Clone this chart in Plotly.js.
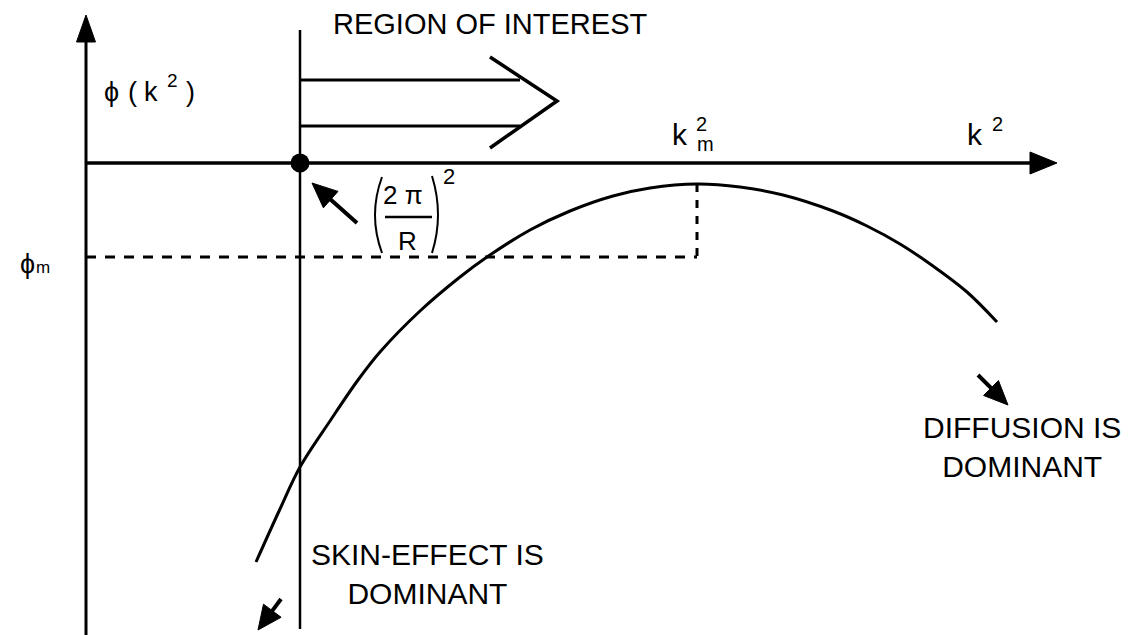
<!DOCTYPE html>
<html>
<head>
<meta charset="utf-8">
<script src="https://cdn.plot.ly/plotly-3.0.1.min.js"></script>
<style>
  html, body { margin: 0; padding: 0; background: #fff; }
  #plot { width: 1132px; height: 635px; }
</style>
</head>
<body>
<div id="plot"></div>
<script>
// Growth-rate curve phi(k^2) sketched against k^2 (arbitrary units)
const curveK2  = [1.70, 1.94, 2.14, 2.44, 2.72, 2.94, 3.34, 3.74, 4.01, 4.44, 4.84, 5.27, 5.64, 6.11, 6.54, 6.97, 7.47, 7.81, 8.14, 8.47, 8.81, 9.11];
const curvePhi = [-3.99, -3.46, -3.04, -2.58, -2.17, -1.89, -1.48, -1.14, -0.94, -0.67, -0.48, -0.33, -0.25, -0.21, -0.24, -0.32, -0.48, -0.63, -0.81, -1.03, -1.29, -1.59];

// Marked positions on the sketch
const kBoundary = 2.14;   // (2π/R)^2, lower edge of the region of interest
const kPeak = 6.11;       // k_m^2
const phiPeak = -0.21;    // curve value at k_m^2
const phiM = -0.94;       // φ_m level

const axisTopPhi = 1.48;  // tip of the φ arrow
const axisEndK = 9.71;    // tip of the k^2 arrow
const bottomPhi = -4.75;

const FONT = 'Liberation Sans, Arial, Helvetica, sans-serif';
const INK = '#000';

const curve = {
  x: curveK2, y: curvePhi, type: 'scatter', mode: 'lines',
  line: { color: INK, width: 3, shape: 'spline', smoothing: 1.0 },
  hoverinfo: 'skip', showlegend: false
};
const dot = {
  x: [kBoundary], y: [0], type: 'scatter', mode: 'markers',
  marker: { color: INK, size: 19 }, hoverinfo: 'skip', showlegend: false
};

function line(x0, y0, x1, y1, w, dash) {
  return { type: 'line', xref: 'x', yref: 'y', x0, y0, x1, y1,
           line: { color: INK, width: w, dash: dash || 'solid' } };
}
function path(d, w, fill) {
  return { type: 'path', xref: 'x', yref: 'y', path: d,
           line: { color: INK, width: w }, fillcolor: fill || 'rgba(0,0,0,0)' };
}
// short pointer: shaft plus filled head (axes share the same scale, so lengths are isotropic)
function pointer(tipX, tipY, tailX, tailY, headLen, headHalf) {
  const dx = tipX - tailX, dy = tipY - tailY;
  const len = Math.hypot(dx, dy);
  const ux = dx / len, uy = dy / len, px = -uy, py = ux;
  const bx = tipX - ux * headLen, by = tipY - uy * headLen;
  const f = v => v.toFixed(4);
  return [
    line(tailX, tailY, bx + ux * 0.02, by + uy * 0.02, 4),
    path(`M ${f(tipX)},${f(tipY)} L ${f(bx + px * headHalf)},${f(by + py * headHalf)} ` +
         `L ${f(bx - px * headHalf)},${f(by - py * headHalf)} Z`, 1, INK)
  ];
}

const shapes = [
  // φ axis with arrowhead
  line(0, bottomPhi, 0, axisTopPhi - 0.1, 3),
  path(`M 0,${axisTopPhi} L -0.095,${axisTopPhi - 0.27} L 0.095,${axisTopPhi - 0.27} Z`, 1, INK),
  // k^2 axis with arrowhead
  line(0, 0, axisEndK - 0.1, 0, 3.5),
  path(`M ${axisEndK},0 L ${axisEndK - 0.27},0.11 L ${axisEndK - 0.27},-0.11 Z`, 1, INK),
  // boundary line at (2π/R)^2
  line(kBoundary, 1.33, kBoundary, -4.66, 2.5),
  // region-of-interest arrow
  line(kBoundary, 0.83, 4.34, 0.83, 3),
  line(kBoundary, 0.37, 4.34, 0.37, 3),
  path('M 4.04,1.06 L 4.71,0.62 L 4.04,0.15', 3.5),
  // dashed guides to the maximum
  line(0, phiM, kPeak, phiM, 3, '10px,9px'),
  line(kPeak, phiPeak, kPeak, phiM, 3, '8px,8px'),
  // (2π/R)^2 bracket and fraction bar
  path('M 2.96,-0.14 Q 2.82,-0.52 2.96,-0.90', 2),
  path('M 3.46,-0.13 Q 3.58,-0.52 3.46,-0.90', 2),
  line(2.99, -0.54, 3.46, -0.54, 2.5),
  // pointers
  ...pointer(2.26, -0.20, 2.71, -0.60, 0.25, 0.11),
  ...pointer(1.72, -4.67, 1.95, -4.36, 0.24, 0.11),
  ...pointer(9.22, -2.42, 8.92, -2.12, 0.24, 0.105)
];

function txt(text, x, y, size, xanchor) {
  return { text, x, y, xref: 'x', yref: 'y', showarrow: false,
           xanchor: xanchor || 'center', yanchor: 'middle',
           font: { family: FONT, size, color: INK } };
}

const annotations = [
  txt('REGION OF INTEREST', 4.04, 1.39, 29),
  // φ(k²) label, spaced out piece by piece
  txt('ϕ', 0.25, 0.71, 27),
  txt('(', 0.46, 0.71, 27),
  txt('k', 0.65, 0.71, 27),
  txt('2', 0.86, 0.83, 19),
  txt(')', 1.04, 0.71, 27),
  // k² at the end of the axis
  txt('k', 8.89, 0.29, 30),
  txt('2', 9.11, 0.39, 20),
  // k_m²
  txt('k', 5.94, 0.29, 30),
  txt('2', 6.15, 0.39, 20),
  txt('m', 6.19, 0.19, 20),
  // φ_m
  txt('ϕ', -0.59, -1.01, 27),
  txt('m', -0.43, -1.04, 17),
  // (2π/R)²
  txt('2 π', 3.17, -0.32, 26),
  txt('R', 3.21, -0.78, 26),
  txt('2', 3.63, -0.13, 22),
  txt('DIFFUSION IS<br>DOMINANT', 9.36, -2.84, 30),
  txt('SKIN-EFFECT IS<br>DOMINANT', 3.41, -4.11, 30)
];

const layout = {
  width: 1132, height: 635,
  margin: { l: 0, r: 0, t: 0, b: 0 },
  paper_bgcolor: '#fff', plot_bgcolor: '#fff',
  xaxis: { range: [-0.86, 10.46], visible: false, fixedrange: true },
  yaxis: { range: [-4.72, 1.63], visible: false, fixedrange: true },
  shapes, annotations, showlegend: false
};

Plotly.newPlot('plot', [curve, dot], layout, { displayModeBar: false, staticPlot: true });
</script>
</body>
</html>
